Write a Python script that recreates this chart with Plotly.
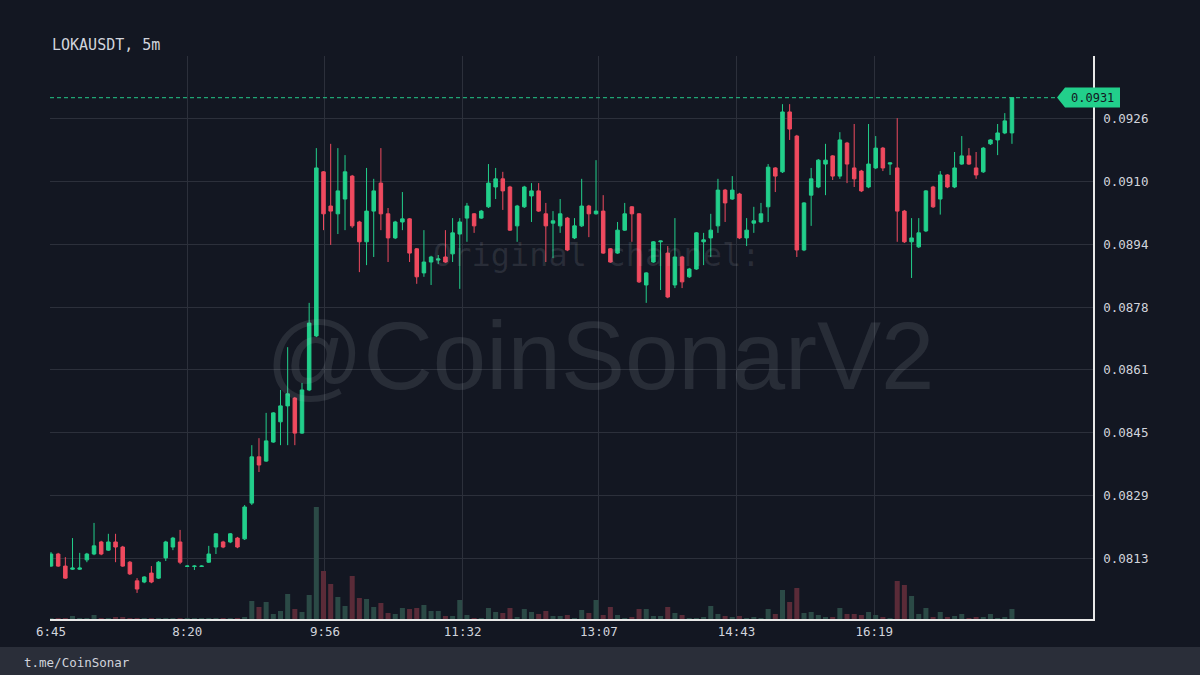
import pandas as pd
import plotly.graph_objects as go

# LOKAUSDT 5m candles
day = "2022-05-10"
times = pd.date_range(day + " 06:45", periods=135, freq="5min")

open_ = [
    0.08109, 0.08140, 0.08109, 0.08101, 0.08101, 0.08125, 0.08140, 0.08171, 0.08150, 0.08171,
    0.08158, 0.08119, 0.08071, 0.08068, 0.08091, 0.08078, 0.08130, 0.08158, 0.08171, 0.08108,
    0.08108, 0.08108, 0.08119, 0.08158, 0.08171, 0.08171, 0.08181, 0.08179, 0.08271, 0.08390,
    0.08379, 0.08428, 0.08480, 0.08521, 0.08541, 0.08451, 0.08562, 0.08701, 0.09123, 0.09035,
    0.09015, 0.09053, 0.09112, 0.08994, 0.08943, 0.09022, 0.09094, 0.09015, 0.08953, 0.08994,
    0.09002, 0.08925, 0.08863, 0.08891, 0.08896, 0.08904, 0.08912, 0.08963, 0.09004, 0.09015,
    0.09004, 0.09033, 0.09084, 0.09105, 0.09084, 0.08984, 0.09033, 0.09061, 0.09074, 0.09015,
    0.08991, 0.08984, 0.09004, 0.08953, 0.08984, 0.09035, 0.09015, 0.09022, 0.08925, 0.08914,
    0.08973, 0.09033, 0.09015, 0.08832, 0.08891, 0.08943, 0.08914, 0.08832, 0.08904, 0.08853,
    0.08873, 0.08943, 0.08953, 0.08984, 0.09076, 0.09053, 0.09066, 0.08953, 0.08991, 0.08994,
    0.09033, 0.09133, 0.09123, 0.09277, 0.09215, 0.08922, 0.09063, 0.09084, 0.09143, 0.09164,
    0.09112, 0.09197, 0.09133, 0.09125, 0.09084, 0.09133, 0.09184, 0.09143, 0.09133, 0.09022,
    0.08943, 0.08930, 0.08971, 0.09084, 0.09053, 0.09115, 0.09084, 0.09143, 0.09164, 0.09133,
    0.09123, 0.09195, 0.09205, 0.09223, 0.09223,
]
high = [
    0.08145, 0.08143, 0.08132, 0.08181, 0.08143, 0.08143, 0.08220, 0.08174, 0.08192, 0.08192,
    0.08161, 0.08122, 0.08078, 0.08083, 0.08109, 0.08122, 0.08174, 0.08184, 0.08202, 0.08111,
    0.08111, 0.08111, 0.08161, 0.08194, 0.08174, 0.08194, 0.08184, 0.08266, 0.08420, 0.08438,
    0.08503, 0.08505, 0.08562, 0.08672, 0.08544, 0.08580, 0.08786, 0.09184, 0.09125, 0.09195,
    0.09184, 0.09166, 0.09115, 0.08997, 0.09133, 0.09105, 0.09184, 0.09030, 0.08997, 0.09071,
    0.09004, 0.08927, 0.08973, 0.08907, 0.08909, 0.08973, 0.09004, 0.09004, 0.09043, 0.09017,
    0.09025, 0.09143, 0.09133, 0.09123, 0.09087, 0.09038, 0.09087, 0.09094, 0.09094, 0.09043,
    0.09022, 0.09053, 0.09007, 0.09004, 0.09105, 0.09038, 0.09153, 0.09063, 0.08927, 0.08994,
    0.09043, 0.09035, 0.09017, 0.08865, 0.08945, 0.08946, 0.08932, 0.09004, 0.08907, 0.08876,
    0.08968, 0.08966, 0.09015, 0.09105, 0.09079, 0.09112, 0.09069, 0.09004, 0.09033, 0.09043,
    0.09143, 0.09135, 0.09297, 0.09297, 0.09218, 0.09045, 0.09133, 0.09156, 0.09195, 0.09166,
    0.09225, 0.09200, 0.09246, 0.09128, 0.09246, 0.09215, 0.09187, 0.09148, 0.09261, 0.09025,
    0.09004, 0.09004, 0.09076, 0.09087, 0.09125, 0.09117, 0.09174, 0.09215, 0.09184, 0.09174,
    0.09187, 0.09207, 0.09246, 0.09274, 0.09315,
]
low = [
    0.08107, 0.08107, 0.08076, 0.08099, 0.08099, 0.08119, 0.08137, 0.08137, 0.08148, 0.08119,
    0.08107, 0.08086, 0.08040, 0.08065, 0.08065, 0.08076, 0.08122, 0.08150, 0.08114, 0.08107,
    0.08099, 0.08107, 0.08117, 0.08140, 0.08155, 0.08168, 0.08155, 0.08176, 0.08266, 0.08351,
    0.08377, 0.08426, 0.08420, 0.08420, 0.08420, 0.08449, 0.08559, 0.08698, 0.08973, 0.08935,
    0.08963, 0.08973, 0.08979, 0.08865, 0.08883, 0.08904, 0.08973, 0.08891, 0.08950, 0.08973,
    0.08891, 0.08835, 0.08853, 0.08832, 0.08886, 0.08889, 0.08891, 0.08822, 0.08943, 0.08966,
    0.09002, 0.09030, 0.09053, 0.09025, 0.08971, 0.08943, 0.09030, 0.08994, 0.09020, 0.08891,
    0.08901, 0.08966, 0.08919, 0.08950, 0.08981, 0.08955, 0.09013, 0.08912, 0.08889, 0.08912,
    0.08971, 0.08943, 0.08837, 0.08786, 0.08889, 0.08819, 0.08798, 0.08824, 0.08824, 0.08850,
    0.08871, 0.08883, 0.08904, 0.08966, 0.08994, 0.09051, 0.08950, 0.08932, 0.08966, 0.08991,
    0.08994, 0.09071, 0.09120, 0.09205, 0.08904, 0.08919, 0.08984, 0.09081, 0.09063, 0.09102,
    0.09105, 0.09094, 0.09084, 0.09071, 0.09081, 0.09130, 0.09125, 0.09115, 0.08943, 0.08940,
    0.08850, 0.08927, 0.08968, 0.09030, 0.09013, 0.09081, 0.09081, 0.09141, 0.09141, 0.09105,
    0.09120, 0.09192, 0.09166, 0.09220, 0.09195,
]
close = [
    0.08140, 0.08109, 0.08078, 0.08104, 0.08104, 0.08140, 0.08161, 0.08140, 0.08171, 0.08158,
    0.08109, 0.08089, 0.08050, 0.08081, 0.08068, 0.08119, 0.08171, 0.08181, 0.08119, 0.08109,
    0.08109, 0.08109, 0.08140, 0.08192, 0.08158, 0.08192, 0.08158, 0.08261, 0.08390, 0.08369,
    0.08431, 0.08503, 0.08521, 0.08552, 0.08451, 0.08562, 0.08734, 0.09133, 0.09015, 0.09022,
    0.09074, 0.09123, 0.08984, 0.08943, 0.09022, 0.09074, 0.09015, 0.08953, 0.08994, 0.09002,
    0.08914, 0.08853, 0.08891, 0.08904, 0.08899, 0.08891, 0.08966, 0.08994, 0.09035, 0.08984,
    0.09022, 0.09094, 0.09105, 0.09074, 0.08973, 0.09035, 0.09084, 0.09074, 0.09022, 0.08984,
    0.08997, 0.09015, 0.08922, 0.08984, 0.09035, 0.09015, 0.09022, 0.08914, 0.08891, 0.08973,
    0.09015, 0.09015, 0.08840, 0.08863, 0.08943, 0.08945, 0.08801, 0.08904, 0.08840, 0.08873,
    0.08966, 0.08948, 0.08973, 0.09076, 0.09043, 0.09076, 0.08953, 0.08973, 0.08997, 0.09015,
    0.09135, 0.09112, 0.09277, 0.09233, 0.08922, 0.09043, 0.09105, 0.09153, 0.09153, 0.09112,
    0.09205, 0.09143, 0.09105, 0.09074, 0.09143, 0.09184, 0.09133, 0.09146, 0.09022, 0.08943,
    0.08953, 0.08966, 0.09074, 0.09033, 0.09115, 0.09084, 0.09133, 0.09164, 0.09143, 0.09115,
    0.09184, 0.09205, 0.09223, 0.09254, 0.09314,
]
volume = [
    1, 0.5, 0.5, 3, 1, 0.5, 4, 1, 0.5, 2,
    1.5, 1, 1, 1, 1, 0.5, 0.5, 0.5, 1, 0.3,
    0.3, 0.3, 1, 1, 0.5, 1, 1, 2, 18, 12,
    17, 5, 8, 25, 10, 7, 24, 112, 48, 35,
    22, 13, 43, 21, 20, 12, 16, 6, 5, 11,
    10, 11, 14, 8, 8, 3, 3, 19, 4, 1,
    1, 11, 7, 6, 11, 1.5, 10, 7, 5, 8,
    3, 3, 4, 1, 9, 6, 19, 4, 12, 4,
    1, 2, 10, 10, 3, 3, 12, 6, 4, 1,
    1, 2, 13, 5, 3, 2, 3, 1, 2, 1,
    10, 5, 29, 17, 31, 6, 7, 4, 2, 2,
    11, 5, 5, 4, 7, 4, 2, 1, 38, 34,
    23, 5, 11, 2, 7, 2, 3, 5, 1, 2,
    2, 5, 1, 2, 10,
]

price_ticks = [0.08129, 0.08291, 0.08452, 0.08614, 0.08775, 0.08937, 0.09098, 0.09260]
price_labels = ["0.0813", "0.0829", "0.0845", "0.0861", "0.0878", "0.0894", "0.0910", "0.0926"]
time_ticks = ["06:45", "08:20", "09:56", "11:32", "13:07", "14:43", "16:19"]
time_labels = ["6:45", "8:20", "9:56", "11:32", "13:07", "14:43", "16:19"]

BG = "#131722"
GRID = "#2c303b"
UP = "#22cf8b"
DOWN = "#ef4a5f"
VOL_UP = "#2b4a46"
VOL_DOWN = "#5a2b38"
TEXT = "#d1d4dc"
MONO = "DejaVu Sans Mono"

y_range = [0.079729, 0.094209]
plot_h = 563  # px height of the plot area
px = (y_range[1] - y_range[0]) / plot_h

vol_colors = [VOL_UP if c >= o else VOL_DOWN for o, c in zip(open_, close)]

fig = go.Figure()

fig.add_trace(go.Bar(
    x=times, y=volume, yaxis="y2",
    marker=dict(color=vol_colors, line=dict(width=0)),
    width=5 * 60 * 1000 * 0.7,
    hoverinfo="skip", showlegend=False,
))

fig.add_trace(go.Candlestick(
    x=times, open=open_, high=high, low=low, close=close,
    increasing=dict(line=dict(color=UP, width=1), fillcolor=UP),
    decreasing=dict(line=dict(color=DOWN, width=1), fillcolor=DOWN),
    whiskerwidth=0, showlegend=False,
))

last = close[-1]
last_paper = (last - y_range[0]) / (y_range[1] - y_range[0])

# last price dashed line + tag
tag_left, tag_body, tag_right = 0.9655, 0.9732, 1.0259
fig.add_shape(type="line", xref="paper", yref="y", x0=0, x1=tag_left, y0=last, y1=last,
              line=dict(color="rgba(34,190,130,0.85)", width=1.2, dash="4px,3px"))
h = 10 * px
fig.add_shape(type="path", xref="paper", yref="y",
              path=f"M {tag_left},{last} L {tag_body},{last + h} L {tag_right},{last + h} "
                   f"L {tag_right},{last - h} L {tag_body},{last - h} Z",
              fillcolor=UP, line=dict(width=0))
fig.add_annotation(xref="paper", yref="paper", x=(tag_body + tag_right) / 2, y=last_paper,
                   text=f"{last:.4f}", showarrow=False, xanchor="center", yanchor="middle",
                   font=dict(family=MONO, size=12, color=BG))

# footer band
fig.add_shape(type="rect", xref="paper", yref="paper", x0=-0.06, x1=1.11, y0=-0.0497, y1=-0.12,
              fillcolor="#2a2e39", line=dict(width=0))
fig.add_annotation(xref="paper", yref="paper", x=-0.0268, y=-0.0764, xanchor="left", yanchor="middle",
                   text="t.me/CoinSonar", showarrow=False,
                   font=dict(family=MONO, size=12.5, color=TEXT))

# title
fig.add_annotation(xref="paper", yref="paper", x=0, y=1.0195, xanchor="left", yanchor="middle",
                   text="LOKAUSDT, 5m", showarrow=False,
                   font=dict(family=MONO, size=15, color=TEXT))

# watermark
fig.add_annotation(xref="paper", yref="paper", x=0.5244, y=0.6465, xanchor="center", yanchor="middle",
                   text="Original channel:", showarrow=False,
                   font=dict(family=MONO, size=32, color="rgba(200,205,215,0.12)"))
fig.add_annotation(xref="paper", yref="paper", x=0.5273, y=0.468, xanchor="center", yanchor="middle",
                   text="@CoinSonarV2", showarrow=False,
                   font=dict(family="Liberation Sans", size=96, color="rgba(200,205,215,0.12)"))

fig.update_layout(
    width=1200, height=675,
    paper_bgcolor=BG, plot_bgcolor=BG,
    margin=dict(l=50, r=107, t=56, b=56),
    showlegend=False,
    hovermode=False,
    xaxis=dict(
        type="date",
        range=[day + " 06:44:18", day + " 18:51:30"],
        tickvals=[day + " " + t for t in time_ticks], ticktext=time_labels,
        showgrid=True, gridcolor=GRID, gridwidth=1,
        showline=True, linecolor="#e8e8e8", linewidth=1.5,
        zeroline=False, ticks="", rangeslider=dict(visible=False),
        tickfont=dict(family=MONO, size=12.5, color=TEXT),
    ),
    yaxis=dict(
        side="right", range=y_range,
        tickvals=price_ticks, ticktext=price_labels,
        showgrid=True, gridcolor=GRID, gridwidth=1,
        showline=True, linecolor="#e8e8e8", linewidth=1.5,
        zeroline=False, ticks="", ticklabelstandoff=6,
        tickfont=dict(family=MONO, size=12.5, color=TEXT),
    ),
    yaxis2=dict(overlaying="y", range=[0, plot_h], visible=False, fixedrange=True),
)

fig.write_html(
    "out.html",
    config={"displayModeBar": False},
    post_script="document.body.style.margin='0';document.body.style.background='#131722';",
)
